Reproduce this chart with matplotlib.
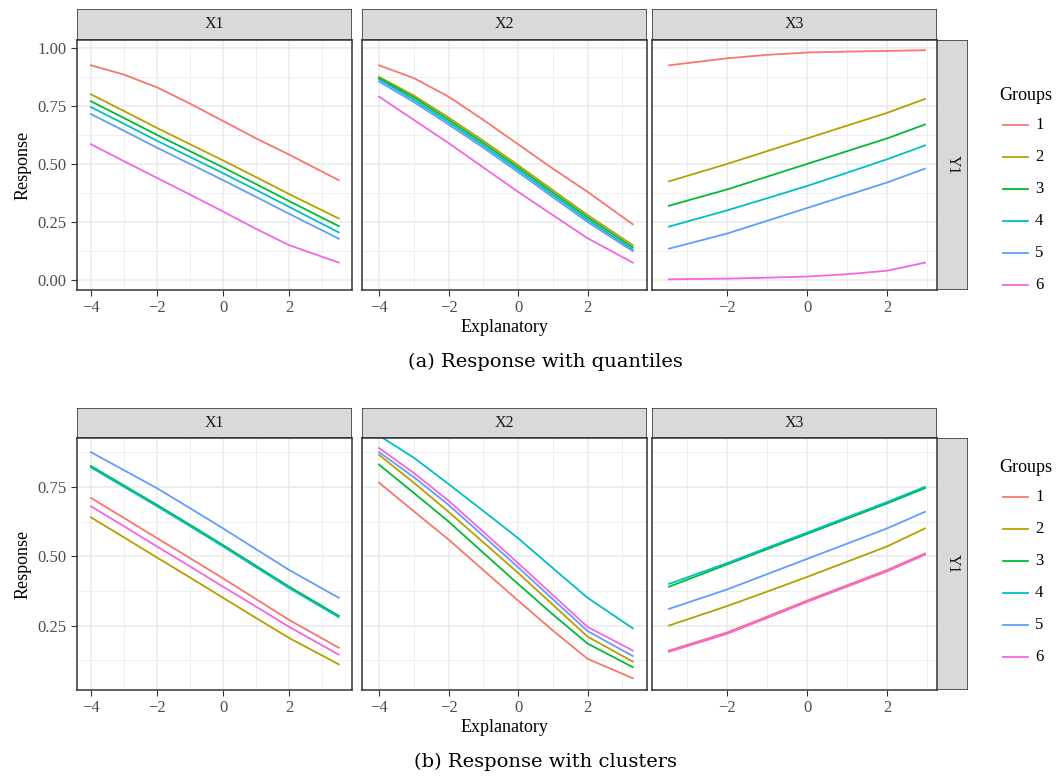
import matplotlib.pyplot as plt
from matplotlib.patches import Rectangle
from matplotlib.lines import Line2D

plt.rcParams['font.family'] = ['Liberation Serif', 'DejaVu Serif']

W, H = 1062, 776
groups = ["1", "2", "3", "4", "5", "6"]
colors = ["#F8766D", "#B79F00", "#00BA38", "#00BFC4", "#619CFF", "#F564E3"]
facets = ["X1", "X2", "X3"]

x_x1 = [-4, -3, -2, -1, 0, 1, 2, 3.5]
x_x2 = [-4, -3, -2, -1, 0, 1, 2, 3.3]
x_x3 = [-3.45, -2, -1, 0, 1, 2, 2.95]

# (a) quantiles
top_x1 = [
    [0.925, 0.885, 0.83, 0.76, 0.685, 0.61, 0.54, 0.43],
    [0.80, 0.728, 0.655, 0.585, 0.515, 0.443, 0.37, 0.265],
    [0.77, 0.698, 0.625, 0.555, 0.485, 0.413, 0.34, 0.232],
    [0.745, 0.673, 0.60, 0.53, 0.46, 0.388, 0.315, 0.205],
    [0.715, 0.643, 0.57, 0.50, 0.43, 0.358, 0.285, 0.178],
    [0.585, 0.512, 0.44, 0.368, 0.295, 0.22, 0.15, 0.075],
]
top_x2 = [
    [0.925, 0.87, 0.79, 0.69, 0.585, 0.48, 0.38, 0.24],
    [0.875, 0.795, 0.70, 0.60, 0.495, 0.387, 0.28, 0.15],
    [0.87, 0.787, 0.69, 0.59, 0.485, 0.377, 0.27, 0.14],
    [0.865, 0.777, 0.68, 0.58, 0.475, 0.367, 0.26, 0.13],
    [0.855, 0.767, 0.67, 0.57, 0.465, 0.357, 0.25, 0.125],
    [0.79, 0.69, 0.59, 0.485, 0.38, 0.28, 0.18, 0.075],
]
top_x3 = [
    [0.925, 0.955, 0.97, 0.98, 0.984, 0.987, 0.99],
    [0.425, 0.50, 0.555, 0.61, 0.665, 0.72, 0.78],
    [0.32, 0.39, 0.445, 0.50, 0.555, 0.61, 0.67],
    [0.23, 0.30, 0.352, 0.405, 0.462, 0.52, 0.58],
    [0.135, 0.20, 0.255, 0.31, 0.365, 0.42, 0.48],
    [0.003, 0.006, 0.01, 0.015, 0.025, 0.04, 0.075],
]
# (b) clusters
bot_x1 = [
    [0.71, 0.638, 0.565, 0.493, 0.42, 0.345, 0.27, 0.17],
    [0.64, 0.568, 0.495, 0.423, 0.35, 0.277, 0.205, 0.11],
    [0.825, 0.755, 0.685, 0.613, 0.54, 0.465, 0.39, 0.285],
    [0.82, 0.75, 0.68, 0.608, 0.535, 0.46, 0.385, 0.28],
    [0.875, 0.81, 0.745, 0.673, 0.60, 0.525, 0.45, 0.35],
    [0.68, 0.608, 0.535, 0.463, 0.39, 0.318, 0.245, 0.145],
]
bot_x2 = [
    [0.765, 0.662, 0.56, 0.45, 0.34, 0.232, 0.13, 0.06],
    [0.865, 0.765, 0.66, 0.55, 0.44, 0.325, 0.21, 0.12],
    [0.83, 0.728, 0.625, 0.512, 0.40, 0.29, 0.185, 0.10],
    [0.935, 0.855, 0.76, 0.663, 0.565, 0.457, 0.35, 0.24],
    [0.875, 0.785, 0.685, 0.573, 0.46, 0.345, 0.23, 0.14],
    [0.89, 0.80, 0.70, 0.588, 0.475, 0.36, 0.245, 0.16],
]
bot_x3 = [
    [0.16, 0.225, 0.282, 0.34, 0.395, 0.45, 0.51],
    [0.25, 0.32, 0.372, 0.425, 0.48, 0.535, 0.60],
    [0.39, 0.47, 0.525, 0.58, 0.635, 0.69, 0.745],
    [0.40, 0.475, 0.53, 0.585, 0.64, 0.695, 0.75],
    [0.31, 0.38, 0.435, 0.49, 0.545, 0.60, 0.66],
    [0.155, 0.22, 0.277, 0.335, 0.39, 0.445, 0.505],
]

xs = [x_x1, x_x2, x_x3]
panel_px = [(77, 352), (362, 647), (652, 937)]
xlims = [(-4.42, 3.9), (-4.49, 3.71), (-3.875, 3.25)]
xticks = [[-4, -2, 0, 2], [-4, -2, 0, 2], [-2, 0, 2]]

rows = [
    dict(data=[top_x1, top_x2, top_x3], strip=(9, 40), plot=(40, 290),
         ylim=(-0.043, 1.034), yticks=[0, 0.25, 0.5, 0.75, 1.0],
         caption="(a) Response with quantiles", cap_y=362, leg_y=95),
    dict(data=[bot_x1, bot_x2, bot_x3], strip=(408, 438), plot=(438, 690),
         ylim=(0.0176, 0.926), yticks=[0.25, 0.5, 0.75],
         caption="(b) Response with clusters", cap_y=762, leg_y=467),
]

fig = plt.figure(figsize=(W / 100, H / 100), dpi=100)


def fax(x0, x1, y0, y1):
    return fig.add_axes([x0 / W, 1 - y1 / H, (x1 - x0) / W, (y1 - y0) / H])


def add_strip(x0, x1, y0, y1, text, rot=0):
    a = fax(x0, x1, y0, y1)
    a.add_patch(Rectangle((0, 0), 1, 1, transform=a.transAxes, fc="#D9D9D9",
                          ec="#333333", lw=1.1))
    a.text(0.5, 0.5, text, ha="center", va="center", fontsize=11.5,
           color="#1A1A1A", rotation=rot)
    a.set_axis_off()


for r in rows:
    py0, py1 = r["plot"]
    sy0, sy1 = r["strip"]
    for k in range(3):
        x0, x1 = panel_px[k]
        add_strip(x0, x1, sy0, sy1, facets[k])
        ax = fax(x0, x1, py0, py1)
        ax.set_xticks(xticks[k])
        ax.set_xticklabels([str(t).replace("-", "\u2212") for t in xticks[k]])
        yt = r["yticks"]
        ax.set_yticks(yt)
        ax.set_xticks([t + 1 for t in xticks[k]] + [xticks[k][0] - 1], minor=True)
        ax.set_yticks([t + 0.125 for t in yt] + [yt[0] - 0.125], minor=True)
        ax.set_xlim(*xlims[k])
        ax.set_ylim(*r["ylim"])
        ax.grid(True, which="major", color="#EBEBEB", lw=1.1)
        ax.grid(True, which="minor", color="#EBEBEB", lw=0.55)
        ax.set_axisbelow(True)
        ax.tick_params(which="minor", length=0)
        ax.tick_params(which="major", length=4, color="#333333",
                       labelsize=12, labelcolor="#4D4D4D")
        if k == 0:
            ax.set_yticklabels([f"{t:.2f}" for t in yt])
            ax.set_ylabel("Response", fontsize=13)
        else:
            ax.tick_params(axis="y", length=0, labelleft=False)
        if k == 1:
            ax.set_xlabel("Explanatory", fontsize=13, labelpad=2)
        for s in ax.spines.values():
            s.set_color("#333333")
            s.set_linewidth(1.1)
        for g in range(6):
            ax.plot(xs[k], r["data"][k][g], color=colors[g], lw=1.3)
    add_strip(937, 968, py0, py1, "Y1", rot=-90)
    fig.text(545 / W, 1 - r["cap_y"] / H, r["caption"], ha="center",
             va="center", fontsize=14, family=["DejaVu Serif"])
    # legend
    ly = r["leg_y"]
    fig.text(999 / W, 1 - ly / H, "Groups", fontsize=13, va="center")
    for g in range(6):
        yy = 1 - (ly + 30 + g * 32) / H
        fig.add_artist(Line2D([1003 / W, 1028 / W], [yy, yy], color=colors[g], lw=1.3))
        fig.text(1035 / W, yy, groups[g], fontsize=12, va="center")

fig.savefig("out.png", dpi=100)
